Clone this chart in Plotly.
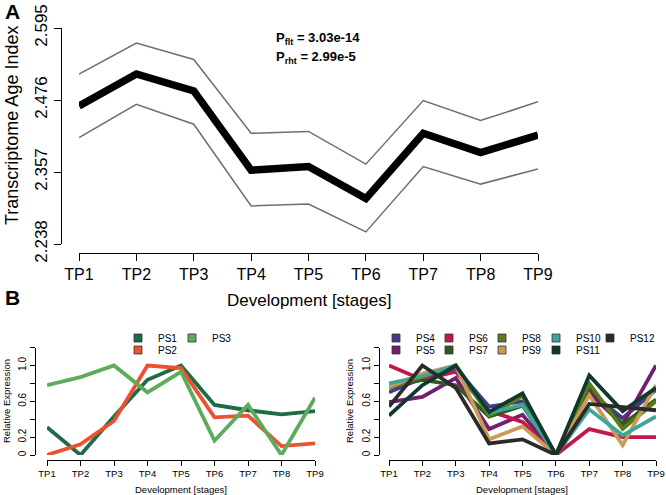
import plotly.graph_objects as go

W, H = 666, 495
FONT = "Liberation Sans, Arial, sans-serif"

stages = ["TP1", "TP2", "TP3", "TP4", "TP5", "TP6", "TP7", "TP8", "TP9"]

# Panel A: transcriptome age index
tai_mean = [2.466, 2.519, 2.491, 2.360, 2.366, 2.313, 2.421, 2.389, 2.418]
tai_upper = [2.519, 2.570, 2.543, 2.421, 2.424, 2.370, 2.475, 2.442, 2.473]
tai_lower = [2.414, 2.469, 2.436, 2.301, 2.304, 2.258, 2.366, 2.337, 2.362]
tai_ticks = [2.238, 2.357, 2.476, 2.595]

# Panel B: relative expression per phylostratum
PS1 = [0.31, 0.00, 0.43, 0.84, 1.00, 0.56, 0.50, 0.455, 0.49]
PS2 = [0.00, 0.12, 0.38, 1.00, 0.97, 0.42, 0.44, 0.10, 0.13]
PS3 = [0.78, 0.87, 1.00, 0.70, 0.93, 0.16, 0.56, 0.00, 0.64]

PS4 = [0.70, 0.86, 0.97, 0.54, 0.60, 0.00, 0.71, 0.41, 0.73]
PS5 = [0.59, 0.65, 0.86, 0.29, 0.45, 0.00, 0.69, 0.34, 1.00]
PS6 = [1.00, 0.84, 0.93, 0.49, 0.37, 0.00, 0.29, 0.20, 0.20]
PS7 = [0.76, 0.84, 0.78, 0.43, 0.55, 0.00, 0.76, 0.34, 0.62]
PS8 = [0.75, 0.88, 1.00, 0.44, 0.66, 0.00, 0.80, 0.29, 0.60]
PS9 = [0.76, 0.91, 1.00, 0.175, 0.32, 0.00, 0.67, 0.11, 0.78]
PS10 = [0.80, 0.88, 1.00, 0.47, 0.56, 0.00, 0.51, 0.22, 0.43]
PS11 = [0.44, 0.78, 1.00, 0.48, 0.69, 0.00, 0.89, 0.49, 0.75]
PS12 = [0.54, 1.00, 0.75, 0.13, 0.175, 0.00, 0.57, 0.53, 0.50]

rel_major = [0, 0.2, 0.6, 1.0]
rel_major_text = ["0", "0.2", "0.6", "1.0"]
rel_minor = [0.4, 0.8, 1.2]

colors = {
    "PS1": "#1d6b47", "PS2": "#ea5230", "PS3": "#5eab5c",
    "PS4": "#433d8a", "PS5": "#72206e", "PS6": "#c2174b", "PS7": "#33591f",
    "PS8": "#5f7a1c", "PS9": "#c99b57", "PS10": "#3ea698", "PS11": "#0e3a2e",
    "PS12": "#2b2b2b",
}
left_series = {"PS1": PS1, "PS2": PS2, "PS3": PS3}
right_series = {"PS4": PS4, "PS5": PS5, "PS6": PS6, "PS7": PS7, "PS8": PS8,
                "PS9": PS9, "PS10": PS10, "PS11": PS11, "PS12": PS12}

# legend layout (R legend fills column-wise): column x of swatch, row y (pixels)
left_legend = {"PS1": (143, 338), "PS3": (197, 338), "PS2": (143, 350)}
right_legend = {"PS4": (401, 338), "PS6": (454, 338), "PS8": (507, 338), "PS10": (561, 338),
                "PS12": (615, 338), "PS5": (401, 350), "PS7": (454, 350), "PS9": (507, 350),
                "PS11": (561, 350)}


def fx(px):
    return px / W


def fy(py):
    return 1 - py / H


fig = go.Figure()

# ---- Panel A
fig.add_trace(go.Scatter(x=stages, y=tai_upper, mode="lines", line=dict(color="#6e6e6e", width=1.5),
                         xaxis="x", yaxis="y", showlegend=False))
fig.add_trace(go.Scatter(x=stages, y=tai_lower, mode="lines", line=dict(color="#6e6e6e", width=1.5),
                         xaxis="x", yaxis="y", showlegend=False))
fig.add_trace(go.Scatter(x=stages, y=tai_mean, mode="lines", line=dict(color="black", width=7.5),
                         xaxis="x", yaxis="y", showlegend=False))

# ---- Panel B lines
for name, vals in left_series.items():
    fig.add_trace(go.Scatter(x=stages, y=vals, mode="lines", line=dict(color=colors[name], width=3.8),
                             xaxis="x2", yaxis="y2", showlegend=False))
for name, vals in right_series.items():
    fig.add_trace(go.Scatter(x=stages, y=vals, mode="lines", line=dict(color=colors[name], width=3.8),
                             xaxis="x3", yaxis="y3", showlegend=False))

# ---- legend entries: one small legend per entry so they sit in R's column layout
legend_layout = {}
n = 0
for entries, xa, ya in ((left_legend, "x2", "y2"), (right_legend, "x3", "y3")):
    for name, (sx, sy) in entries.items():
        n += 1
        lid = "legend" if n == 1 else "legend%d" % n
        fig.add_trace(go.Scatter(x=[None], y=[None], mode="markers", name=name,
                                 marker=dict(symbol="square", size=8, color=colors[name],
                                             line=dict(color="#333333", width=0.8)),
                                 xaxis=xa, yaxis=ya, legend=lid, showlegend=True))
        legend_layout[lid] = dict(
            orientation="h", x=fx(sx - 25), y=fy(sy), xanchor="left", yanchor="middle",
            font=dict(family=FONT, size=10, color="black"), bgcolor="rgba(0,0,0,0)",
            itemclick=False, itemdoubleclick=False,
        )

axis_common = dict(showgrid=False, zeroline=False, showline=True, linecolor="black", linewidth=1,
                   ticks="outside", tickcolor="black", tickwidth=1, color="black")
minor_common = dict(tickvals=rel_minor, ticks="outside", ticklen=5, tickcolor="black", tickwidth=1,
                    showgrid=False)


def label(text, px, py, size, angle=0, bold=False, anchor="center"):
    return dict(text=("<b>%s</b>" % text) if bold else text, x=fx(px), y=fy(py),
                xref="paper", yref="paper", xanchor=anchor, yanchor="middle",
                textangle=angle, showarrow=False, font=dict(size=size, family=FONT, color="black"))


layout = dict(
    width=W, height=H, margin=dict(l=0, r=0, t=0, b=0, autoexpand=False),
    paper_bgcolor="white", plot_bgcolor="white",
    font=dict(family=FONT, color="black"),
    xaxis=dict(axis_common, domain=[fx(79), fx(538)], range=[0, 8], anchor="free", position=fy(253),
               ticklen=7, tickfont=dict(size=16, family=FONT)),
    yaxis=dict(axis_common, domain=[fy(244), fy(28)], range=[tai_ticks[0], tai_ticks[-1]],
               anchor="free", position=fx(61), tickvals=tai_ticks,
               ticktext=["%.3f" % t for t in tai_ticks], tickangle=-90, ticklen=7,
               tickfont=dict(size=17, family=FONT)),
    xaxis2=dict(axis_common, domain=[fx(47), fx(315)], range=[0, 8], anchor="free", position=fy(460),
                ticklen=5, tickfont=dict(size=9.5, family=FONT)),
    yaxis2=dict(axis_common, domain=[fy(455), fy(347.6)], range=[0, 1.2], anchor="free", position=fx(35),
                tickvals=rel_major, ticktext=rel_major_text, tickangle=-90, ticklen=5,
                tickfont=dict(size=10, family=FONT), minor=minor_common),
    xaxis3=dict(axis_common, domain=[fx(389), fx(656)], range=[0, 8], anchor="free", position=fy(460),
                ticklen=5, tickfont=dict(size=9.5, family=FONT)),
    yaxis3=dict(axis_common, domain=[fy(455), fy(347.6)], range=[0, 1.2], anchor="free", position=fx(379),
                tickvals=rel_major, ticktext=rel_major_text, tickangle=-90, ticklen=5,
                tickfont=dict(size=10, family=FONT), minor=minor_common),
    annotations=[
        label("A", 3, 11, 21, bold=True, anchor="left"),
        label("B", 3, 297, 21, bold=True, anchor="left"),
        label("P<sub>flt</sub> = 3.03e-14", 274, 38, 13, bold=True, anchor="left"),
        label("P<sub>rht</sub> = 2.99e-5", 274, 58, 13, bold=True, anchor="left"),
        label("Transcriptome Age Index", 12, 126, 18, angle=-90),
        label("Development [stages]", 308.5, 300, 17),
        label("Relative Expression", 6, 401, 9.5, angle=-90),
        label("Development [stages]", 181, 489, 9.5),
        label("Relative Expression", 349, 401, 9.5, angle=-90),
        label("Development [stages]", 522, 489, 9.5),
    ],
)
layout.update(legend_layout)
fig.update_layout(**layout)

fig.write_html("out.html", config={"displayModeBar": False},
               post_script="document.body.style.margin='0px';")
